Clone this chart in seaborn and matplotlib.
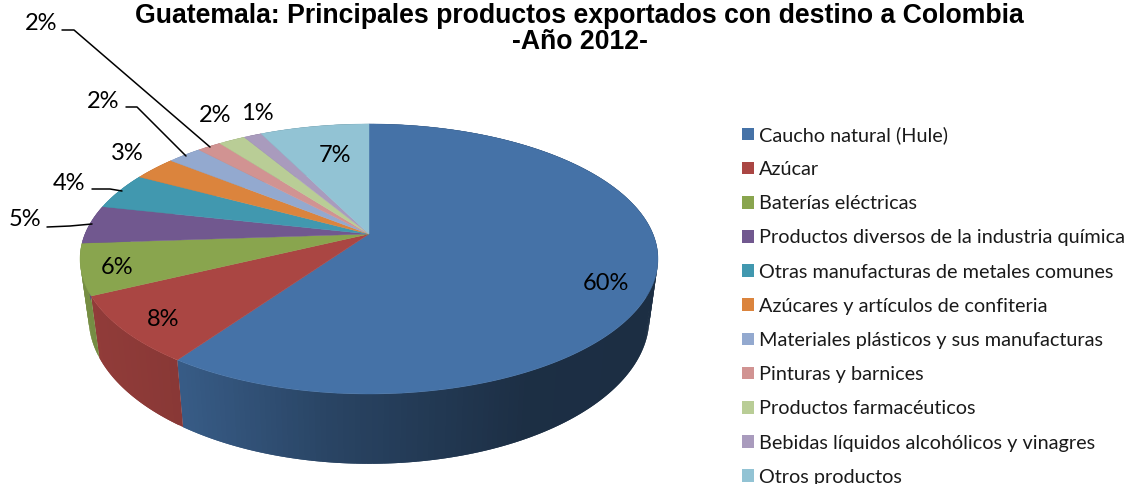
import matplotlib
matplotlib.use("Agg")
import matplotlib.pyplot as plt
import numpy as np
import seaborn as sns
from matplotlib.patches import Patch

# datos (% del total)
productos = [
    "Caucho natural (Hule)",
    "Azúcar",
    "Baterías eléctricas",
    "Productos diversos de la industria química",
    "Otras manufacturas de metales comunes",
    "Azúcares y artículos de confiteria",
    "Materiales plásticos y sus manufacturas",
    "Pinturas y barnices",
    "Productos farmacéuticos",
    "Bebidas líquidos alcohólicos y vinagres",
    "Otros productos",
]
valores = [59.7, 8.1, 6.1, 4.6, 4.4, 2.9, 2.3, 1.6, 1.8, 1.2, 7.3]
colores = ["#4572A7", "#AA4643", "#89A54E", "#71588F", "#4198AF", "#DB843D",
           "#93A9CF", "#D19392", "#B9CD96", "#A99BBD", "#92C3D4"]

titulo = "Guatemala: Principales productos exportados con destino a Colombia\n-Año 2012-"

# posicion de las etiquetas en pixeles
pos_etiquetas = [(606, 283), (163, 319), (117, 267), (25, 219), (69, 183), (127, 153),
                 (103, 101), (41, 24), (215, 115), (257, 113), (335, 155)]
guias = [
    [(47, 227), (70, 226), (92, 224)],
    [(92, 189), (110, 189), (122, 191)],
    [(126, 107), (137, 107), (186, 156)],
    [(62, 30), (74, 30), (210, 147)],
]

sns.set_theme(style="white")
plt.rcParams["font.family"] = ["Lato", "DejaVu Sans"]

fig = plt.figure(figsize=(11.26, 4.84), dpi=100)
ax = fig.add_axes([0, 0, 1, 1])
ax.set_xlim(0, 1126)
ax.set_ylim(484, 0)
ax.axis("off")

# pastel en perspectiva
cx, cy = 369, 234
rx, ry, k = 284, 130.4, 0.185


def proyectar(ang):
    # ang en radianes, desde las 12 en sentido horario
    u, v = np.sin(ang), np.cos(ang)
    d = 1 + k * v
    return rx * u / d, ry * v / d


def cara_superior(a1, a2):
    ang = np.linspace(a1, a2, max(int((a2 - a1) * 60), 3))
    dx, dy = proyectar(ang)
    return np.r_[cx, cx + dx], np.r_[cy, cy - dy]


limites = np.r_[0, np.cumsum(valores)] / np.sum(valores) * 2 * np.pi
paleta = sns.color_palette(colores)

# pared lateral, mas oscura hacia la derecha; cada tira pisa a la siguiente para que no se vean juntas
for i, color in enumerate(paleta):
    pasos = np.linspace(limites[i], limites[i + 1], max(int((limites[i + 1] - limites[i]) * 60), 3))
    for j in range(len(pasos) - 1):
        tramo = pasos[j:j + 3]
        dx, dy = proyectar(tramo)
        xs_sup, ys_sup = cx + dx, cy - dy
        xs_inf, ys_inf = cx + dx * 0.97, cy + 57 - dy * 1.08
        sombra = np.interp(xs_sup[0], [80, 185, 330, 530, 660], [0.86, 0.8, 0.6, 0.41, 0.4])
        c = tuple(np.array(color) * sombra)
        ax.fill(np.r_[xs_sup, xs_inf[::-1]], np.r_[ys_sup, ys_inf[::-1]], color=c, lw=0, zorder=1)

# cara superior
for i, color in enumerate(paleta):
    xs, ys = cara_superior(limites[i], limites[i + 1])
    ax.fill(xs, ys, color=color, lw=0.3, zorder=2)

for valor, (x, y) in zip(valores, pos_etiquetas):
    ax.text(x, y, f"{valor:.0f}%", ha="center", va="center", fontsize=17, color="black", zorder=4)

for guia in guias:
    gx, gy = zip(*guia)
    ax.plot(gx, gy, color="black", lw=1.1, zorder=3)

ax.text(579.5, 29, titulo, ha="center", va="center", fontsize=19.2, fontweight="bold",
        family=["Liberation Sans"], color="black", linespacing=1.03)

handles = [Patch(facecolor=c, edgecolor="none") for c in paleta]
ax.legend(handles, productos, loc="upper left", bbox_to_anchor=(742 / 1126, 1 - 126 / 484),
          frameon=False, fontsize=14.3, handlelength=0.6, handleheight=0.6, handletextpad=0.25,
          labelspacing=0.865, borderpad=0, borderaxespad=0, labelcolor="#1a1a1a")

fig.savefig("out.png", dpi=100)
